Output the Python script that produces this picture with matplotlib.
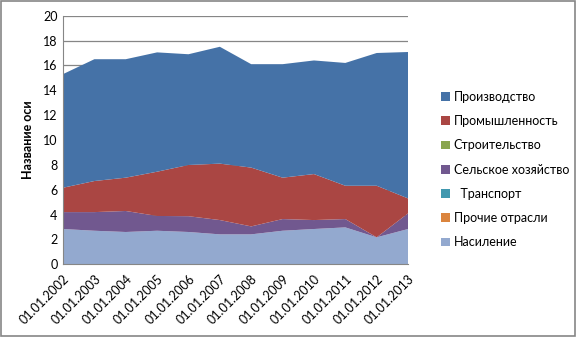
import numpy as np
import matplotlib.pyplot as plt
from matplotlib.patches import Patch, Rectangle

plt.rcParams['font.family'] = ['Lato', 'DejaVu Sans']

dates = ['01.01.2002', '01.01.2003', '01.01.2004', '01.01.2005', '01.01.2006', '01.01.2007',
         '01.01.2008', '01.01.2009', '01.01.2010', '01.01.2011', '01.01.2012', '01.01.2013']

# значения по слоям (снизу вверх)
naselenie = [2.84, 2.70, 2.60, 2.70, 2.60, 2.41, 2.41, 2.70, 2.84, 2.97, 2.17, 2.84]
prochie = [0, 0, 0, 0, 0, 0, 0, 0, 0, 0, 0, 0]
transport = [0, 0, 0, 0, 0, 0, 0, 0, 0, 0, 0, 0]
selskoe = [1.36, 1.50, 1.69, 1.19, 1.27, 1.15, 0.64, 0.94, 0.72, 0.67, 0.0, 1.26]
stroit = [0, 0, 0, 0, 0, 0, 0, 0, 0, 0, 0, 0]
prom = [1.96, 2.50, 2.68, 3.56, 4.12, 4.54, 4.73, 3.33, 3.70, 2.68, 4.15, 1.20]
proizv = [9.14, 9.80, 9.53, 9.60, 8.91, 9.40, 8.32, 9.13, 9.14, 9.88, 10.68, 11.78]

names = ['Насиление', 'Прочие отрасли', '  Транспорт', 'Сельское хозяйство',
         'Строительство', 'Промышленность', 'Производство']
colors = ['#93A9CF', '#DB843D', '#4198AF', '#71588F', '#89A54E', '#AA4643', '#4572A7']

fig = plt.figure(figsize=(5.77, 3.37), dpi=100)
ax = fig.add_axes([0.1092, 0.2157, 0.598, 0.7377])

x = np.arange(len(dates))
ax.stackplot(x, naselenie, prochie, transport, selskoe, stroit, prom, proizv,
             colors=colors, zorder=2)

ax.set_xlim(0, len(dates) - 1)
ax.set_ylim(0, 20)
ax.set_yticks(range(0, 21, 2))
ax.yaxis.grid(True, color='#868686', linewidth=0.9, zorder=1)
ax.set_axisbelow(True)
ax.set_xticks(x)
ax.set_xticklabels(dates, rotation=45, ha='right', rotation_mode='anchor')
ax.tick_params(axis='both', labelsize=9, length=0, pad=4)
ax.tick_params(axis='x', pad=6)
for s in ['top', 'right']:
    ax.spines[s].set_visible(False)
for s in ['left', 'bottom']:
    ax.spines[s].set_color('#868686')
ax.set_ylabel('Название оси', fontsize=9, fontweight='bold', labelpad=6)

handles = [Patch(facecolor=c, edgecolor='none') for c in colors][::-1]
ax.legend(handles, names[::-1], loc='center left', bbox_to_anchor=(0.745, 0.497),
          bbox_transform=fig.transFigure, frameon=False, fontsize=9,
          handlelength=0.7, handleheight=0.7, handletextpad=0.3, labelspacing=0.98)

fig.patches.append(Rectangle((0.002, 0.003), 0.995, 0.993, transform=fig.transFigure,
                             fill=False, edgecolor='#868686', linewidth=1.2))

fig.savefig('out.png', dpi=100)
